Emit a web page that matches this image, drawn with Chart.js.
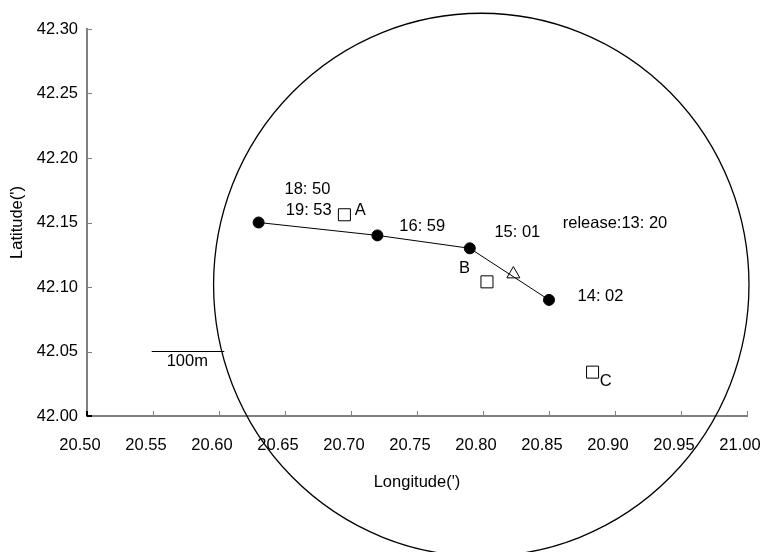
<!DOCTYPE html>
<html>
<head>
<meta charset="utf-8">
<script src="https://cdn.jsdelivr.net/npm/chart.js@4/dist/chart.umd.min.js"></script>
<style>
  html, body { margin: 0; padding: 0; background: #fff; }
  #wrap { width: 761px; height: 552px; position: relative; }
</style>
</head>
<body>
<div id="wrap"><canvas id="c" width="761" height="552"></canvas></div>
<script>
// ---- data ----
const trackLon = [20.630, 20.720, 20.790, 20.850];
const trackLat = [42.150, 42.140, 42.130, 42.090];
const releaseLon = [20.823];
const releaseLat = [42.110];
const stationNames = ['A', 'B', 'C'];
const stationLon = [20.695, 20.803, 20.883];
const stationLat = [42.156, 42.104, 42.034];
const scaleBarLon = [20.549, 20.604];
const scaleBarLat = [42.05, 42.05];
const noteTexts = ['18: 50', '19: 53', 'A', '16: 59', '15: 01', 'release:13: 20', 'B', '14: 02', 'C', '100m'];
const noteLon   = [20.667, 20.668, 20.707, 20.754, 20.826, 20.900, 20.786, 20.889, 20.893, 20.576];
const noteLat   = [42.176, 42.159, 42.159, 42.147, 42.142, 42.149, 42.114, 42.093, 42.027, 42.042];
const rangeCenterLon = 20.7987;
const rangeCenterLat = 42.1017;
const rangeRadiusLon = 0.2028;
const rangeRadiusLat = 0.2105;
const xTickValues = [20.50, 20.55, 20.60, 20.65, 20.70, 20.75, 20.80, 20.85, 20.90, 20.95, 21.00];
const xTickLabels = ['20.50', '20.55', '20.60', '20.65', '20.70', '20.75', '20.80', '20.85', '20.90', '20.95', '21.00'];
const yTickValues = [42.00, 42.05, 42.10, 42.15, 42.20, 42.25, 42.30];
const yTickLabels = ['42.00', '42.05', '42.10', '42.15', '42.20', '42.25', '42.30'];
const xTitle = "Longitude(')";
const yTitle = "Latitude(')";

// ---- build ----
const FONT = "'Liberation Sans', Arial, sans-serif";
const FS = 16.5;
const pts = (xs, ys) => xs.map((x, i) => ({x: x, y: ys[i]}));

const extras = {
  id: 'extras',
  afterDraw(chart) {
    const ctx = chart.ctx;
    const xs = chart.scales.x, ys = chart.scales.y;
    const ca = chart.chartArea;
    ctx.save();
    // inward tick marks
    xTickValues.forEach((v, i) => {
      const px = Math.round(xs.getPixelForValue(v)) + 0.5;
      ctx.strokeStyle = i === 0 ? '#000' : '#808080';
      ctx.lineWidth = i === 0 ? 2 : 1;
      ctx.beginPath();
      ctx.moveTo(i === 0 ? px - 0.5 : px, ca.bottom);
      ctx.lineTo(i === 0 ? px - 0.5 : px, ca.bottom - 5);
      ctx.stroke();
    });
    yTickValues.forEach((v, i) => {
      const py = Math.round(ys.getPixelForValue(v)) + 0.5;
      ctx.strokeStyle = i === 0 ? '#000' : '#808080';
      ctx.lineWidth = i === 0 ? 2 : 1;
      ctx.beginPath();
      ctx.moveTo(ca.left, i === 0 ? py - 0.5 : py);
      ctx.lineTo(ca.left + 5, i === 0 ? py - 0.5 : py);
      ctx.stroke();
    });
    // range circle
    const cx = xs.getPixelForValue(rangeCenterLon);
    const cy = ys.getPixelForValue(rangeCenterLat);
    const rx = Math.abs(xs.getPixelForValue(rangeCenterLon + rangeRadiusLon) - cx);
    const ry = Math.abs(ys.getPixelForValue(rangeCenterLat + rangeRadiusLat) - cy);
    ctx.strokeStyle = '#000';
    ctx.lineWidth = 1.3;
    ctx.beginPath();
    ctx.ellipse(cx, cy, rx, ry, 0, 0, Math.PI * 2);
    ctx.stroke();
    // text notes
    ctx.fillStyle = '#000';
    ctx.font = FS + 'px ' + FONT;
    ctx.textAlign = 'center';
    ctx.textBaseline = 'middle';
    noteTexts.forEach((t, i) => {
      ctx.fillText(t, xs.getPixelForValue(noteLon[i]), ys.getPixelForValue(noteLat[i]));
    });
    ctx.restore();
  }
};

new Chart(document.getElementById('c'), {
  type: 'scatter',
  data: {
    datasets: [
      {
        label: 'scale',
        data: pts(scaleBarLon, scaleBarLat),
        showLine: true,
        borderColor: '#000',
        borderWidth: 1,
        pointRadius: 0
      },
      {
        label: 'track',
        data: pts(trackLon, trackLat),
        showLine: true,
        borderColor: '#000',
        borderWidth: 1,
        pointStyle: 'circle',
        pointRadius: 5.5,
        pointBackgroundColor: '#000',
        pointBorderColor: '#000',
        pointBorderWidth: 1
      },
      {
        label: 'release',
        data: pts(releaseLon, releaseLat),
        pointStyle: 'triangle',
        pointRadius: 7.5,
        pointBackgroundColor: '#fff',
        pointBorderColor: '#000',
        pointBorderWidth: 1
      },
      {
        label: 'stations',
        data: pts(stationLon, stationLat),
        pointStyle: 'rect',
        pointRadius: 8.5,
        pointBackgroundColor: '#fff',
        pointBorderColor: '#000',
        pointBorderWidth: 1
      }
    ]
  },
  options: {
    responsive: false,
    animation: false,
    events: [],
    layout: { padding: { top: 29, right: 14, left: 0, bottom: 0 } },
    plugins: { legend: { display: false }, tooltip: { enabled: false } },
    scales: {
      x: {
        type: 'linear',
        min: 20.5,
        max: 21.0,
        afterBuildTicks: s => { s.ticks = xTickValues.map(v => ({value: v})); },
        afterFit: s => { s.height = 136; s.paddingLeft = 0; s.paddingRight = 0; },
        ticks: {
          callback: (v, i) => xTickLabels[i],
          color: '#000',
          font: { family: FONT, size: FS },
          padding: 20,
          labelOffset: -7,
          maxRotation: 0,
          autoSkip: false
        },
        grid: { drawOnChartArea: false, drawTicks: false },
        border: { color: '#808080', width: 2 },
        title: {
          display: true,
          text: xTitle,
          color: '#000',
          font: { family: FONT, size: FS },
          padding: { top: 0, bottom: 60 }
        }
      },
      y: {
        type: 'linear',
        min: 42.0,
        max: 42.3,
        afterBuildTicks: s => { s.ticks = yTickValues.map(v => ({value: v})); },
        afterFit: s => { s.width = 87; s.paddingTop = 0; s.paddingBottom = 0; },
        ticks: {
          callback: (v, i) => yTickLabels[i],
          color: '#000',
          font: { family: FONT, size: FS },
          padding: 9,
          autoSkip: false
        },
        grid: { drawOnChartArea: false, drawTicks: false },
        border: { color: '#808080', width: 2 },
        title: {
          display: true,
          text: yTitle,
          color: '#000',
          font: { family: FONT, size: FS },
          padding: { top: 8, bottom: 0 }
        }
      }
    }
  },
  plugins: [extras]
});
</script>
</body>
</html>
